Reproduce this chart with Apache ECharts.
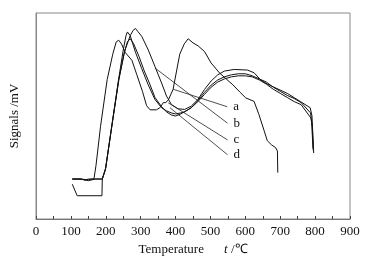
<!DOCTYPE html>
<html>
<head>
<meta charset="utf-8">
<script src="https://cdn.jsdelivr.net/npm/echarts@6/dist/echarts.min.js"></script>
<style>
  html, body { margin: 0; padding: 0; background: #fff; }
  #chart { width: 368px; height: 261px; }
</style>
</head>
<body>
<div id="chart"></div>
<script>
// temperature (°C) / signal (arbitrary, 0..100)
const xA = [104, 120, 140, 150, 160, 166, 172, 185, 204, 220, 230, 237, 245, 255, 275, 289, 305, 317, 327, 345, 355, 365, 372, 380, 393, 412, 425, 436, 450, 465, 483, 502, 526, 545, 564, 585, 601, 625, 639, 654, 663, 675, 687, 692, 693]
const yA = [19.4, 19.4, 19.2, 19.0, 19.4, 19.4, 26, 45, 67.7, 80, 86, 86.8, 85, 81, 77, 70, 62, 55, 53, 53, 54, 56.5, 56.5, 58, 63, 80, 85, 87.5, 85.5, 84, 81.3, 75.7, 70.9, 68, 65.2, 61.5, 58.8, 57.1, 50.7, 42.8, 38, 36, 34.6, 33, 22.5]

const xB = [104, 130, 150, 170, 190, 199, 218, 237, 255, 270, 278, 285, 292, 303, 322, 341, 360, 374, 388, 407, 426, 445, 464, 483, 502, 521, 540, 568, 606, 625, 644, 663, 682, 720, 758, 786, 791, 796]
const yB = [19.4, 19.4, 18.6, 19.4, 19.4, 24, 46, 67.7, 82, 89, 91.5, 92.5, 91, 88.7, 82, 74, 66, 59.7, 55.6, 53.5, 53.2, 54.8, 58, 62.9, 67, 70, 71.8, 72.6, 72.3, 71, 67.5, 65.5, 64, 61, 57, 54, 50, 32]

const xC = [104, 130, 140, 150, 190, 199, 218, 237, 250, 258, 262, 270, 285, 303, 322, 341, 360, 374, 388, 400, 415, 426, 445, 464, 483, 502, 521, 540, 560, 580, 600, 620, 640, 660, 680, 700, 720, 740, 760, 787, 790, 794]
const yC = [19.4, 19.4, 18.8, 19.4, 19.4, 24, 46, 68, 82, 89, 90.8, 89, 81, 73, 65, 58, 54, 52.5, 51.5, 51, 51.5, 52, 54, 57.5, 61.5, 65, 67.5, 69, 70, 70.5, 70.5, 69.5, 68, 66.5, 64, 62, 60, 58.5, 56.5, 51.5, 47, 34]

const xD = [104, 118, 189, 190, 200, 219, 238, 252, 262, 270, 280, 295, 310, 325, 341, 360, 374, 388, 400, 415, 430, 445, 464, 483, 502, 521, 540, 560, 580, 600, 620, 640, 660, 680, 700, 720, 740, 760, 788, 792, 795]
const yD = [16.9, 11.3, 11.3, 19.4, 25, 47, 68, 80, 86, 87.5, 85, 79, 72, 66, 59, 54.5, 52, 50.5, 50, 51, 52.5, 54, 57, 60.5, 64, 66.5, 68, 69, 69.5, 69.5, 69, 67.5, 65.5, 63, 61, 59, 57, 55.5, 49, 45, 33]

// leader lines: [point on curve, end near label]
const labels = ['a', 'b', 'c', 'd']
const leaderStart = [[393, 63], [341, 73.3], [379, 56.4], [384, 54]]
const leaderEnd = [[548, 54.5], [549, 46.5], [549, 38.4], [549, 31.2]]

const xTicks = [0, 100, 200, 300, 400, 500, 600, 700, 800, 900]

const font = 'Liberation Serif'
const zip = (xs, ys) => xs.map((x, i) => [x, ys[i]])

const chart = echarts.init(document.getElementById('chart'))

const curves = [[xA, yA], [xB, yB], [xC, yC], [xD, yD]].map(([xs, ys]) => ({
  type: 'line',
  data: zip(xs, ys),
  showSymbol: false,
  silent: true,
  lineStyle: { color: '#111', width: 1 }
}))

const leaders = labels.map((name, i) => ({
  type: 'line',
  name: name,
  data: [leaderStart[i], leaderEnd[i]],
  showSymbol: false,
  silent: true,
  lineStyle: { color: '#222', width: 0.8 },
  endLabel: {
    show: true,
    formatter: name,
    distance: 6,
    fontFamily: font,
    fontSize: 13,
    color: '#111'
  }
}))

chart.setOption({
  animation: false,
  grid: {
    left: 33, right: 18, top: 13, bottom: 41,
    show: true,
    borderColor: '#888',
    borderWidth: 1
  },
  xAxis: {
    type: 'value',
    min: xTicks[0],
    max: xTicks[xTicks.length - 1],
    interval: 100,
    name: '{n|Temperature}      {i|t} {n|/℃}',
    nameLocation: 'middle',
    nameGap: 24,
    nameTextStyle: {
      rich: {
        n: { fontFamily: font, fontSize: 13, color: '#111' },
        i: { fontFamily: font, fontSize: 13, fontStyle: 'italic', color: '#111' }
      }
    },
    axisLine: { lineStyle: { color: '#777' } },
    axisTick: { inside: true, length: 3, lineStyle: { color: '#444' } },
    minorTick: { show: true, splitNumber: 2, length: 3, lineStyle: { color: '#444' } },
    splitLine: { show: false },
    axisLabel: { fontFamily: font, fontSize: 13, color: '#111', margin: 6 }
  },
  yAxis: {
    type: 'value',
    min: 0,
    max: 100,
    name: 'Signals /mV',
    nameLocation: 'middle',
    nameGap: 15,
    nameTextStyle: { fontFamily: font, fontSize: 13, color: '#111' },
    axisLine: { show: true, lineStyle: { color: '#888' } },
    axisTick: { show: false },
    axisLabel: { show: false },
    splitLine: { show: false }
  },
  series: [...curves, ...leaders]
})
</script>
</body>
</html>
